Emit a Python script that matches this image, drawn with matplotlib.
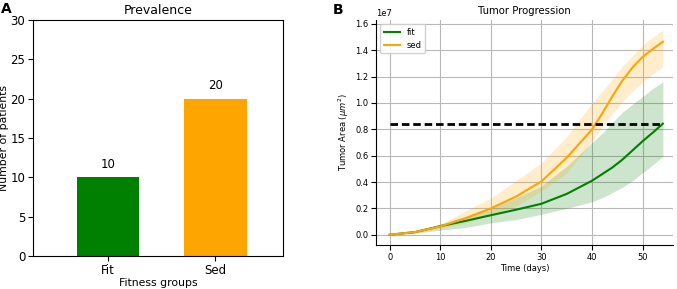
import matplotlib

matplotlib.use("Agg")
import matplotlib.pyplot as plt

# Panel A data
groups = ["Fit", "Sed"]
patients = [10, 20]
bar_colors = ["green", "orange"]

# Panel B data (tumor area, units of 1e7 um^2)
days = [0, 5, 10, 15, 20, 25, 30, 35, 40, 42, 44, 46, 48, 50, 52, 54]
fit_mean = [0.0, 0.02, 0.065, 0.105, 0.148, 0.19, 0.235, 0.31, 0.41, 0.46, 0.51,
            0.57, 0.64, 0.71, 0.775, 0.843]
fit_low = [0.0, 0.012, 0.035, 0.055, 0.09, 0.115, 0.155, 0.2, 0.25, 0.28, 0.32,
           0.36, 0.41, 0.47, 0.53, 0.595]
fit_high = [0.0, 0.025, 0.08, 0.14, 0.21, 0.28, 0.37, 0.52, 0.70, 0.77, 0.85,
            0.93, 0.99, 1.05, 1.11, 1.16]
sed_mean = [0.0, 0.02, 0.063, 0.125, 0.2, 0.29, 0.405, 0.585, 0.80, 0.92, 1.05,
            1.17, 1.27, 1.35, 1.41, 1.465]
sed_low = [0.0, 0.015, 0.05, 0.09, 0.15, 0.22, 0.33, 0.47, 0.71, 0.82, 0.92,
           1.01, 1.09, 1.16, 1.22, 1.275]
sed_high = [0.0, 0.025, 0.08, 0.18, 0.28, 0.41, 0.545, 0.745, 1.0, 1.09, 1.18,
            1.28, 1.36, 1.44, 1.50, 1.553]
threshold = 0.843

scale = 1e7

fig = plt.figure(figsize=(6.77, 2.89), dpi=100)

# ---- Panel A ----
ax1 = fig.add_axes([33 / 677, 1 - 256 / 289, 250 / 677, 236 / 289])
bars = ax1.bar(range(len(groups)), patients, width=0.58, color=bar_colors)
for bar, v in zip(bars, patients):
    ax1.text(bar.get_x() + bar.get_width() / 2, v + 0.8, str(v),
             ha="center", va="bottom", fontsize=8.5)
ax1.set_xticks(range(len(groups)))
ax1.set_xticklabels(groups)
ax1.set_xlim(-0.7, 1.63)
ax1.set_ylim(0, 30)
ax1.set_yticks([0, 5, 10, 15, 20, 25, 30])
ax1.tick_params(labelsize=8.5, pad=2)
ax1.set_xlabel("Fitness groups", fontsize=7.8, labelpad=1)
ax1.set_ylabel("Number of patients", fontsize=7.8, labelpad=1)
ax1.set_title("Prevalence", fontsize=9, pad=4)
fig.text(1 / 677, 1 - 9 / 289, "A", fontsize=10, fontweight="bold", va="center")

# ---- Panel B ----
ax2 = fig.add_axes([376 / 677, 1 - 245 / 289, 297 / 677, 225 / 289])
fit_y = [v * scale for v in fit_mean]
sed_y = [v * scale for v in sed_mean]
ax2.fill_between(days, [v * scale for v in fit_low], [v * scale for v in fit_high],
                 color="green", alpha=0.2, linewidth=0)
ax2.fill_between(days, [v * scale for v in sed_low], [v * scale for v in sed_high],
                 color="orange", alpha=0.2, linewidth=0)
ax2.plot(days, fit_y, color="green", linewidth=1.5, label="fit")
ax2.plot(days, sed_y, color="orange", linewidth=1.5, label="sed")
ax2.plot([days[0], days[-1]], [threshold * scale] * 2, color="black",
         linestyle=(0, (2.7, 1.4)), linewidth=2)
ax2.set_xlim(-2.7, 56.0)
ax2.set_ylim(-0.078 * scale, 1.63 * scale)
ax2.set_xticks([0, 10, 20, 30, 40, 50])
ax2.set_yticks([v * scale for v in [0, 0.2, 0.4, 0.6, 0.8, 1.0, 1.2, 1.4, 1.6]])
ax2.grid(True, color="#b8b8b8", linewidth=0.8)
ax2.set_axisbelow(True)
for side in ["top", "right"]:
    ax2.spines[side].set_visible(False)
ax2.tick_params(labelsize=6, pad=2)
ax2.yaxis.get_offset_text().set_fontsize(6)
ax2.set_xlabel("Time (days)", fontsize=6, labelpad=2)
ax2.set_ylabel(r"Tumor Area ($\mu m^2$)", fontsize=6, labelpad=3)
ax2.set_title("Tumor Progression", fontsize=7.3, pad=4)
ax2.legend(loc="upper left", fontsize=6, framealpha=0.9)
fig.text(333 / 677, 1 - 10 / 289, "B", fontsize=10, fontweight="bold", va="center")

fig.savefig("out.png", dpi=100)
